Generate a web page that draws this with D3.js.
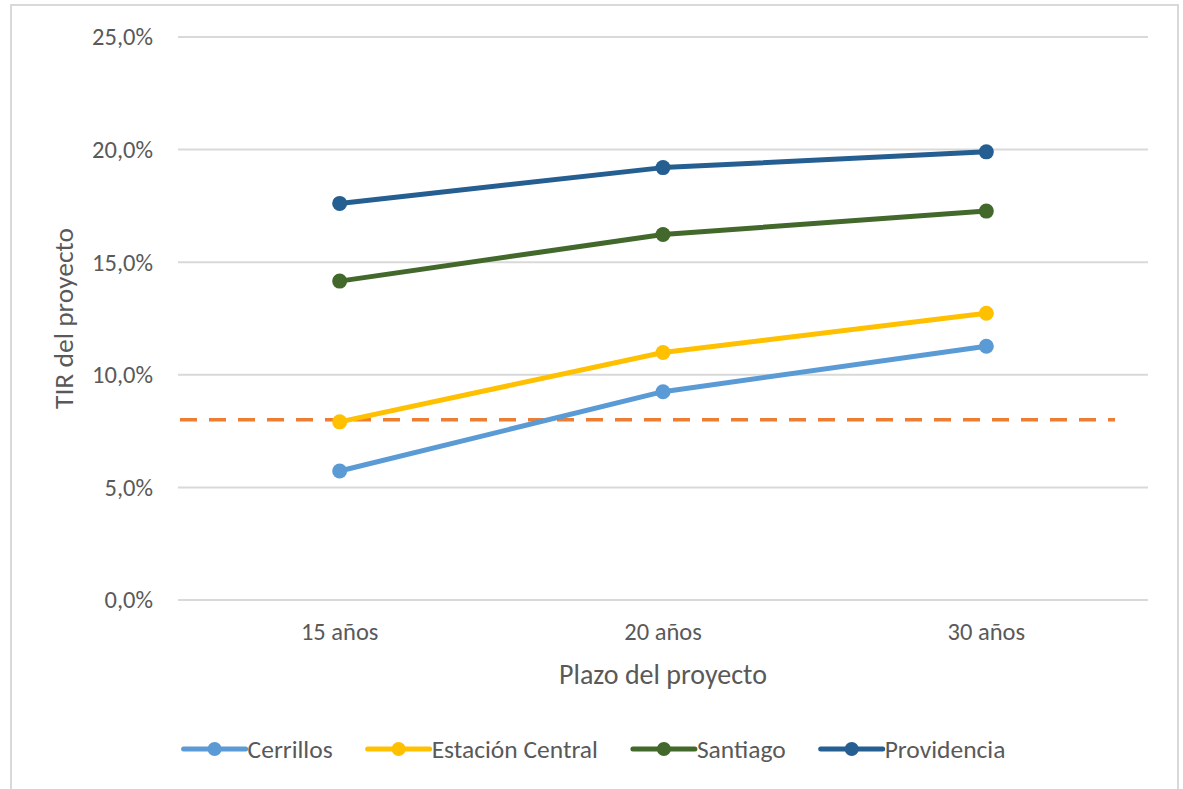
<!DOCTYPE html>
<html>
<head>
<meta charset="utf-8">
<script src="https://cdn.jsdelivr.net/npm/d3@7/dist/d3.min.js"></script>
<style>
  html, body { margin: 0; padding: 0; background: #fff; }
  svg { display: block; }
  text { font-family: Carlito, Calibri, Lato, sans-serif; fill: #595959; }
</style>
</head>
<body>
<svg id="chart" width="1183" height="789"></svg>
<script>
// Plazo (x categories)
const plazos = ["15 años", "20 años", "30 años"];

// TIR by district, one value per plazo (%)
const cerrillos        = [5.73, 9.25, 11.27];
const estacionCentral  = [7.91, 10.99, 12.73];
const santiago         = [14.16, 16.23, 17.27];
const providencia      = [17.61, 19.20, 19.90];

// Reference rate (dashed line)
const tasaReferencia = 8.0;

// Y axis ticks (%)
const yTicks = [0, 5, 10, 15, 20, 25];

const seriesNames  = ["Cerrillos", "Estación Central", "Santiago", "Providencia"];
const seriesValues = [cerrillos, estacionCentral, santiago, providencia];
const seriesColors = ["#5B9BD5", "#FFC000", "#43682B", "#255E91"];

const svg = d3.select("#chart");
const plot = { left: 178, right: 1148, top: 37, bottom: 600 };
const FONT = "Carlito, Calibri, Lato, sans-serif";

// Chart area frame
svg.append("rect")
  .attr("x", 11).attr("y", 5)
  .attr("width", 1167).attr("height", 800)
  .attr("fill", "#fff").attr("stroke", "#D9D9D9").attr("stroke-width", 2);

const x = d3.scaleBand().domain(plazos).range([plot.left, plot.right]);
const y = d3.scaleLinear().domain([0, 25]).range([plot.bottom, plot.top]);
const fmt = v => d3.format(".1f")(v).replace(".", ",") + "%";

// Horizontal gridlines
svg.append("g")
  .selectAll("line").data(yTicks).join("line")
  .attr("x1", plot.left).attr("x2", plot.right)
  .attr("y1", d => y(d)).attr("y2", d => y(d))
  .attr("stroke", "#D9D9D9").attr("stroke-width", 2);

// Y axis labels
const yAxis = d3.axisLeft(y).tickValues(yTicks).tickFormat(fmt).tickSize(0).tickPadding(25);
const gy = svg.append("g").attr("transform", `translate(${plot.left},0)`).call(yAxis);
gy.select(".domain").remove();
gy.selectAll("text").attr("font-size", 24.5).attr("fill", "#595959").style("font-family", FONT);

// X axis labels
const xAxis = d3.axisBottom(x).tickSize(0).tickPadding(23);
const gx = svg.append("g").attr("transform", `translate(0,${plot.bottom})`).call(xAxis);
gx.select(".domain").remove();
gx.selectAll("text").attr("font-size", 24.5).attr("fill", "#595959").style("font-family", FONT);

// Axis titles
svg.append("text")
  .attr("x", (plot.left + plot.right) / 2).attr("y", 684)
  .attr("text-anchor", "middle").attr("font-size", 28)
  .text("Plazo del proyecto");
svg.append("text")
  .attr("transform", `translate(73,${(plot.top + plot.bottom) / 2}) rotate(-90)`)
  .attr("text-anchor", "middle").attr("font-size", 27.5)
  .text("TIR del proyecto");

// Reference rate line
svg.append("line")
  .attr("x1", plot.left + 2).attr("x2", plot.right - 33)
  .attr("y1", y(tasaReferencia)).attr("y2", y(tasaReferencia))
  .attr("stroke", "#ED7D31").attr("stroke-width", 3.5)
  .attr("stroke-dasharray", "17 12");

// Series lines and markers
const cx = d => x(d) + x.bandwidth() / 2;
const line = d3.line().x((d, i) => cx(plazos[i])).y(d => y(d));

seriesValues.forEach((vals, s) => {
  const g = svg.append("g");
  g.append("path").datum(vals)
    .attr("d", line).attr("fill", "none")
    .attr("stroke", seriesColors[s]).attr("stroke-width", 5)
    .attr("stroke-linejoin", "round").attr("stroke-linecap", "round");
  g.selectAll("circle").data(vals).join("circle")
    .attr("cx", (d, i) => cx(plazos[i])).attr("cy", d => y(d))
    .attr("r", 7.5).attr("fill", seriesColors[s]);
});

// Legend
const legend = svg.append("g");
const legY = 749, swatch = 62, gapText = 2, gapItem = 35;
let offset = 0;
seriesNames.forEach((name, s) => {
  const g = legend.append("g");
  g.append("line").attr("x1", 0).attr("x2", swatch).attr("y1", 0).attr("y2", 0)
    .attr("stroke", seriesColors[s]).attr("stroke-width", 5).attr("stroke-linecap", "round");
  g.append("circle").attr("cx", swatch / 2).attr("cy", 0).attr("r", 7).attr("fill", seriesColors[s]);
  const t = g.append("text").attr("x", swatch + gapText).attr("y", 0)
    .attr("dy", "0.35em").attr("font-size", 25.5).text(name);
  const w = swatch + gapText + t.node().getComputedTextLength();
  g.attr("transform", `translate(${offset},${legY})`);
  offset += w + gapItem;
});
const legW = offset - gapItem;
legend.attr("transform", `translate(${(11 + 1178) / 2 - legW / 2},0)`);
</script>
</body>
</html>
